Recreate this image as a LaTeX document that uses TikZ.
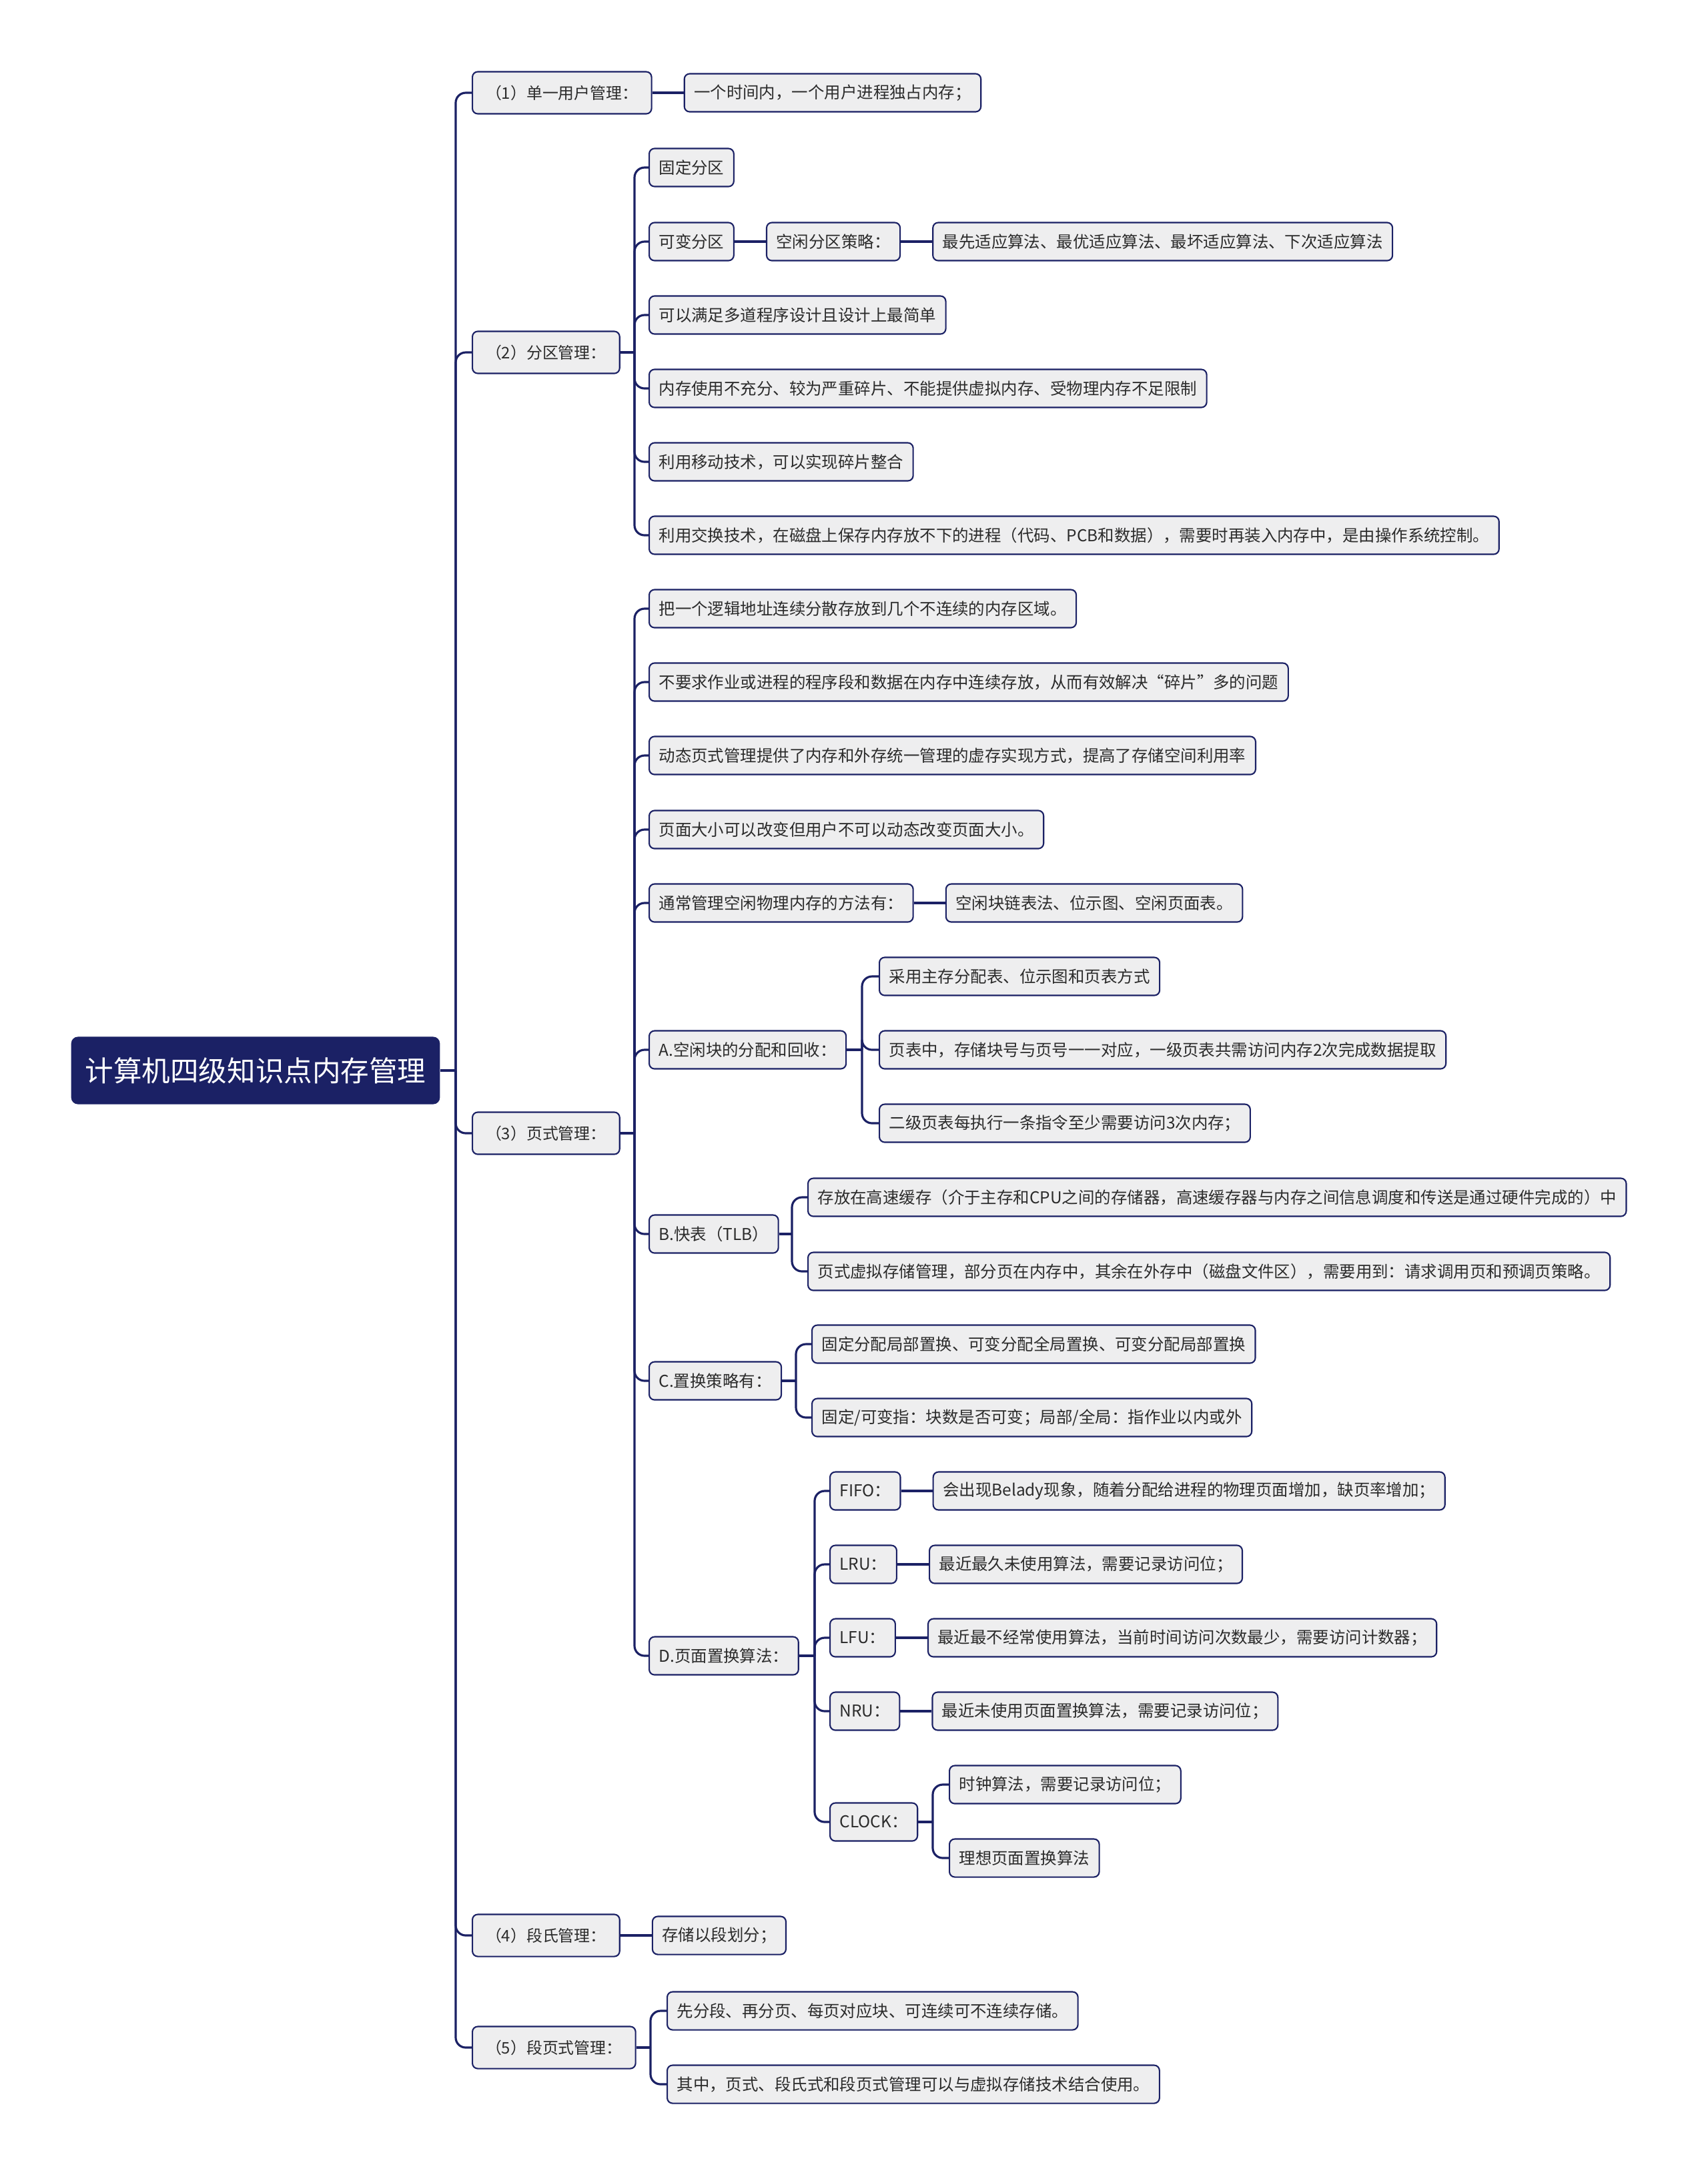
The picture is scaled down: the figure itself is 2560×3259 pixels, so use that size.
\documentclass[tikz,border=0pt]{standalone}
\usepackage{fontspec}
\setmainfont{Noto Sans CJK SC}
\usetikzlibrary{positioning}
\definecolor{navy}{HTML}{1B2165}
\definecolor{boxgray}{HTML}{EEEEEF}
\definecolor{ink}{HTML}{2B2B2B}
\tikzset{
  rootbox/.style={fill=navy, text=white, rounded corners=0.1cm, minimum height=1.01cm, inner xsep=0.21cm, font=\fontsize{12.1}{14}\selectfont},
  topicbox/.style={draw=navy, line width=0.6pt, fill=boxgray, text=ink, rounded corners=0.08cm, minimum height=0.63cm, inner xsep=0.2cm, font=\fontsize{6.8}{8}\selectfont},
  leafbox/.style={topicbox, minimum height=0.57cm, inner xsep=0.145cm, font=\fontsize{6.95}{8}\selectfont},
  link/.style={draw=navy, line width=0.9pt},
  bendlink/.style={link, rounded corners=0.15cm},
}
\begin{document}
\begin{tikzpicture}[x=0.01cm, y=-0.01cm]
  \fill[white] (0,0) rectangle (2560,3259);
  \node[rootbox, anchor=west] (root) at (106,1604) {计算机四级知识点内存管理};
  % first level
  \node[topicbox, anchor=west] (m1) at (707,139) {（1）单一用户管理：};
  \node[topicbox, anchor=west] (m2) at (707,528) {（2）分区管理：};
  \node[topicbox, anchor=west] (m3) at (707,1698) {（3）页式管理：};
  \node[topicbox, anchor=west] (m4) at (707,2900) {（4）段氏管理：};
  \node[topicbox, anchor=west] (m5) at (707,3068) {（5）段页式管理：};
  \coordinate (j0) at (683,1604);
  \draw[link] (root.east) -- (j0);
  \foreach \c in {m1,m2,m3,m4,m5} \draw[bendlink] (j0) |- (\c.west);
  % (1)
  \node[leafbox, right=0.47cm of m1] (m1a) {一个时间内，一个用户进程独占内存；};
  \draw[link] (m1.east) -- (m1a.west);
  % (2)
  \node[leafbox, anchor=west] (m2a) at (972,251) {固定分区};
  \node[leafbox, anchor=west] (m2b) at (972,362) {可变分区};
  \node[leafbox, right=0.47cm of m2b] (m2b1) {空闲分区策略：};
  \node[leafbox, right=0.47cm of m2b1] (m2b2) {最先适应算法、最优适应算法、最坏适应算法、下次适应算法};
  \node[leafbox, anchor=west] (m2c) at (972,472) {可以满足多道程序设计且设计上最简单};
  \node[leafbox, anchor=west] (m2d) at (972,582) {内存使用不充分、较为严重碎片、不能提供虚拟内存、受物理内存不足限制};
  \node[leafbox, anchor=west] (m2e) at (972,692) {利用移动技术，可以实现碎片整合};
  \node[leafbox, anchor=west] (m2f) at (972,802) {利用交换技术，在磁盘上保存内存放不下的进程（代码、PCB和数据），需要时再装入内存中，是由操作系统控制。};
  \coordinate (j2) at (951,528);
  \draw[link] (m2.east) -- (j2);
  \foreach \c in {m2a,m2b,m2c,m2d,m2e,m2f} \draw[bendlink] (j2) |- (\c.west);
  \draw[link] (m2b.east) -- (m2b1.west);
  \draw[link] (m2b1.east) -- (m2b2.west);
  % (3)
  \node[leafbox, anchor=west] (m3a) at (972,912) {把一个逻辑地址连续分散存放到几个不连续的内存区域。};
  \node[leafbox, anchor=west] (m3b) at (972,1022) {不要求作业或进程的程序段和数据在内存中连续存放，从而有效解决“碎片”多的问题};
  \node[leafbox, anchor=west] (m3c) at (972,1132) {动态页式管理提供了内存和外存统一管理的虚存实现方式，提高了存储空间利用率};
  \node[leafbox, anchor=west] (m3d) at (972,1243) {页面大小可以改变但用户不可以动态改变页面大小。};
  \node[leafbox, anchor=west] (m3e) at (972,1353) {通常管理空闲物理内存的方法有：};
  \node[leafbox, right=0.47cm of m3e] (m3e1) {空闲块链表法、位示图、空闲页面表。};
  \node[leafbox, anchor=west] (m3f) at (972,1573) {A.空闲块的分配和回收：};
  \node[leafbox, anchor=west] (m3g) at (972,1849) {B.快表（TLB）};
  \node[leafbox, anchor=west] (m3h) at (972,2069) {C.置换策略有：};
  \node[leafbox, anchor=west] (m3i) at (972,2481) {D.页面置换算法：};
  \coordinate (j3) at (951,1698);
  \draw[link] (m3.east) -- (j3);
  \foreach \c in {m3a,m3b,m3c,m3d,m3e,m3f,m3g,m3h,m3i} \draw[bendlink] (j3) |- (\c.west);
  \draw[link] (m3e.east) -- (m3e1.west);
  % A
  \node[leafbox, anchor=west] (m3f1) at (1317,1463) {采用主存分配表、位示图和页表方式};
  \node[leafbox, anchor=west] (m3f2) at (1317,1573) {页表中，存储块号与页号一一对应，一级页表共需访问内存2次完成数据提取};
  \node[leafbox, anchor=west] (m3f3) at (1317,1683) {二级页表每执行一条指令至少需要访问3次内存；};
  \coordinate (jA) at (1292,1573);
  \draw[link] (m3f.east) -- (jA);
  \foreach \c in {m3f1,m3f2,m3f3} \draw[bendlink] (jA) |- (\c.west);
  % B
  \node[leafbox, anchor=west] (m3g1) at (1210,1794) {存放在高速缓存（介于主存和CPU之间的存储器，高速缓存器与内存之间信息调度和传送是通过硬件完成的）中};
  \node[leafbox, anchor=west] (m3g2) at (1210,1905) {页式虚拟存储管理，部分页在内存中，其余在外存中（磁盘文件区），需要用到：请求调用页和预调页策略。};
  \coordinate (jB) at (1187,1849);
  \draw[link] (m3g.east) -- (jB);
  \foreach \c in {m3g1,m3g2} \draw[bendlink] (jB) |- (\c.west);
  % C
  \node[leafbox, anchor=west] (m3h1) at (1216,2014) {固定分配局部置换、可变分配全局置换、可变分配局部置换};
  \node[leafbox, anchor=west] (m3h2) at (1216,2124) {固定/可变指：块数是否可变；局部/全局：指作业以内或外};
  \coordinate (jC) at (1193,2069);
  \draw[link] (m3h.east) -- (jC);
  \foreach \c in {m3h1,m3h2} \draw[bendlink] (jC) |- (\c.west);
  % D
  \node[leafbox, anchor=west] (m3i1) at (1243,2234) {FIFO：};
  \node[leafbox, anchor=west] (m3i2) at (1243,2344) {LRU：};
  \node[leafbox, anchor=west] (m3i3) at (1243,2454) {LFU：};
  \node[leafbox, anchor=west] (m3i4) at (1243,2564) {NRU：};
  \node[leafbox, anchor=west] (m3i5) at (1243,2730) {CLOCK：};
  \coordinate (jD) at (1221,2481);
  \draw[link] (m3i.east) -- (jD);
  \foreach \c in {m3i1,m3i2,m3i3,m3i4,m3i5} \draw[bendlink] (jD) |- (\c.west);
  \node[leafbox, right=0.47cm of m3i1] (m3i1a) {会出现Belady现象，随着分配给进程的物理页面增加，缺页率增加；};
  \node[leafbox, right=0.47cm of m3i2] (m3i2a) {最近最久未使用算法，需要记录访问位；};
  \node[leafbox, right=0.47cm of m3i3] (m3i3a) {最近最不经常使用算法，当前时间访问次数最少，需要访问计数器；};
  \node[leafbox, right=0.47cm of m3i4] (m3i4a) {最近未使用页面置换算法，需要记录访问位；};
  \foreach \c in {m3i1,m3i2,m3i3,m3i4} \draw[link] (\c.east) -- (\c a.west);
  \node[leafbox, anchor=west] (m3i5a) at (1422,2674) {时钟算法，需要记录访问位；};
  \node[leafbox, anchor=west] (m3i5b) at (1422,2784) {理想页面置换算法};
  \coordinate (jE) at (1398,2730);
  \draw[link] (m3i5.east) -- (jE);
  \foreach \c in {m3i5a,m3i5b} \draw[bendlink] (jE) |- (\c.west);
  % (4)
  \node[leafbox, right=0.47cm of m4] (m4a) {存储以段划分；};
  \draw[link] (m4.east) -- (m4a.west);
  % (5)
  \node[leafbox, anchor=west] (m5a) at (999,3013) {先分段、再分页、每页对应块、可连续可不连续存储。};
  \node[leafbox, anchor=west] (m5b) at (999,3123) {其中，页式、段氏式和段页式管理可以与虚拟存储技术结合使用。};
  \coordinate (j5) at (975,3068);
  \draw[link] (m5.east) -- (j5);
  \foreach \c in {m5a,m5b} \draw[bendlink] (j5) |- (\c.west);
\end{tikzpicture}
\end{document}
